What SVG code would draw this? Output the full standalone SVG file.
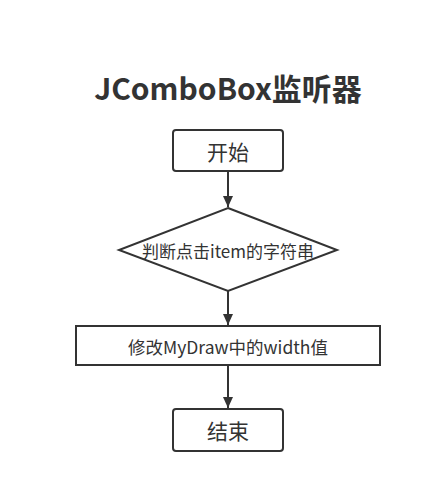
<svg xmlns="http://www.w3.org/2000/svg" width="440" height="484" viewBox="0 0 440 484">
<style>
.shape{fill:#fff;stroke:#333;stroke-width:2}
.t{font-family:"Noto Sans CJK SC","Open Sans","Noto Sans",sans-serif;fill:#333;text-anchor:middle;dominant-baseline:central}
.edge{stroke:#333;stroke-width:2;fill:none}
</style>
<defs>
<marker id="arr" markerWidth="10" markerHeight="12" refX="11" refY="5" orient="auto" markerUnits="userSpaceOnUse">
<path d="M0,0 L11,5 L0,10 Z" fill="#333"/>
</marker>
</defs>
<rect width="440" height="484" fill="#fff"/>
<text class="t" x="228" y="87" style="font-size:30px;font-weight:bold">JComboBox监听器</text>
<g id="connectors">
<line class="edge" x1="228" y1="171" x2="228" y2="207" marker-end="url(#arr)"/>
<line class="edge" x1="228" y1="291" x2="228" y2="325" marker-end="url(#arr)"/>
<line class="edge" x1="228" y1="365" x2="228" y2="408" marker-end="url(#arr)"/>
</g>
<g id="start">
<rect class="shape" x="173" y="130" width="110" height="41" rx="3"/>
<text class="t" x="228" y="151" style="font-size:21px">开始</text>
</g>
<g id="decision">
<polygon class="shape" points="228,208 337,250 228,291 119,250"/>
<text class="t" x="228" y="250" style="font-size:17px">判断点击item的字符串</text>
</g>
<g id="process">
<rect class="shape" x="76" y="326" width="304" height="39"/>
<text class="t" x="228" y="346" style="font-size:17.5px">修改MyDraw中的width值</text>
</g>
<g id="end">
<rect class="shape" x="173" y="409" width="110" height="42" rx="3"/>
<text class="t" x="228" y="430" style="font-size:21px">结束</text>
</g>
</svg>
